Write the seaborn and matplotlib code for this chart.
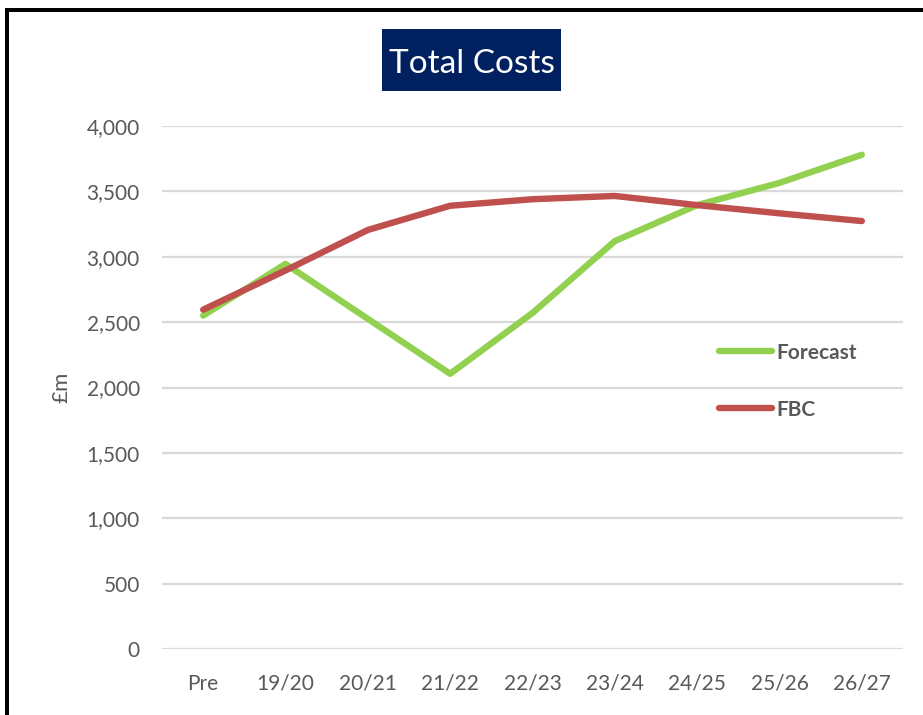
import matplotlib
matplotlib.use("Agg")
import matplotlib.pyplot as plt
from matplotlib.patches import Rectangle
import seaborn as sns
import pandas as pd

categories = ["Pre", "19/20", "20/21", "21/22", "22/23", "23/24", "24/25", "25/26", "26/27"]
forecast = [2550, 2945, 2525, 2105, 2570, 3120, 3395, 3565, 3780]
fbc = [2595, 2895, 3205, 3390, 3440, 3465, 3395, 3332, 3273]
series_names = ["Forecast", "FBC"]
y_ticks = [0, 500, 1000, 1500, 2000, 2500, 3000, 3500, 4000]
title = "Total Costs"
y_label = "£m"

df = pd.DataFrame({
    "period": categories * 2,
    "value": forecast + fbc,
    "series": [series_names[0]] * len(categories) + [series_names[1]] * len(categories),
})

sns.set_theme(style="white")
plt.rcParams["font.family"] = ["Lato", "DejaVu Sans"]

W, H = 923, 715
fig = plt.figure(figsize=(W / 100, H / 100), dpi=100)
fig.patch.set_facecolor("white")
ax = fig.add_axes([162 / W, 1 - 649 / H, (903 - 162) / W, (649 - 126) / H])

palette = {"Forecast": "#92D050", "FBC": "#C0504D"}
sns.lineplot(data=df, x="period", y="value", hue="series", palette=palette,
             linewidth=4.6, sort=False, ax=ax, solid_capstyle="round")

ax.set_xlim(-0.5, len(categories) - 0.5)
ax.set_ylim(0, 4000)
ax.set_yticks(y_ticks)
ax.set_yticklabels([f"{v:,}" for v in y_ticks])
ax.grid(axis="y", color="#D9D9D9", linewidth=1.6)
ax.set_axisbelow(True)
for s in ax.spines.values():
    s.set_visible(False)
ax.tick_params(axis="both", length=0, labelsize=15, labelcolor="#595959")
ax.tick_params(axis="y", pad=16)
ax.tick_params(axis="x", pad=18)
ax.set_xlabel("")
ax.set_ylabel(y_label, fontsize=16, color="#595959")
ax.yaxis.set_label_coords(-0.122, 0.5)

handles, labels = ax.get_legend_handles_labels()
leg = ax.legend(handles, labels, loc="center left", bbox_to_anchor=(0.738, 0.512),
                frameon=False, borderpad=0, handlelength=2.55, handletextpad=0.2,
                labelspacing=1.78, prop={"weight": "bold", "size": 15})
for t in leg.get_texts():
    t.set_color("#595959")
for l in leg.get_lines():
    l.set_linewidth(4.6)
    l.set_solid_capstyle("round")

# title box
fig.patches.append(Rectangle((382 / W, 1 - 91 / H), 179 / W, 62 / H,
                             transform=fig.transFigure, facecolor="#002060",
                             edgecolor="none", zorder=5))
fig.text(471.5 / W, 1 - 64 / H, title, ha="center", va="center", color="white",
         fontsize=24, zorder=6)

# frame
fig.patches.append(Rectangle((5 / W, 1 - 12 / H), (W - 5) / W, 4 / H,
                             transform=fig.transFigure, facecolor="black",
                             edgecolor="none", zorder=5))
fig.patches.append(Rectangle((5 / W, 0), 4 / W, 1 - 8 / H,
                             transform=fig.transFigure, facecolor="black",
                             edgecolor="none", zorder=5))

fig.savefig("out.png", dpi=100)
